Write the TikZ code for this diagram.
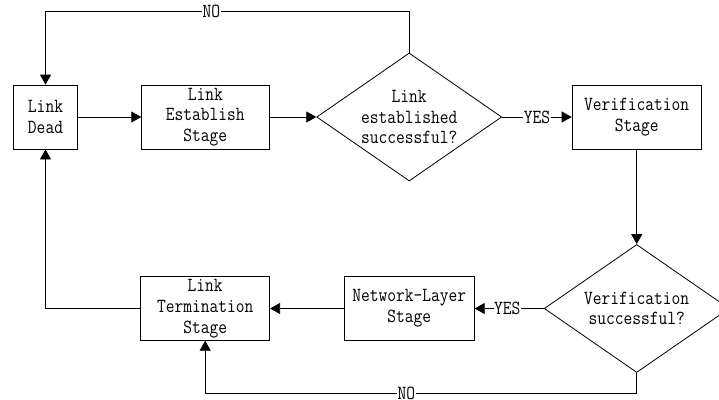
\documentclass[tikz,border=0pt]{standalone}
\usepackage{fontspec}
\setmonofont{Latin Modern Mono}[FakeStretch=0.85]
\usetikzlibrary{shapes.geometric,arrows.meta}
\begin{document}
\begin{tikzpicture}[x=1pt,y=-1pt,
  every node/.style={font=\ttfamily\fontsize{20}{20.7}\selectfont},
  box/.style={draw,line width=0.8pt,align=center,inner sep=0pt,minimum height=64},
  dia/.style={draw,line width=0.8pt,shape=diamond,align=center,inner sep=0pt,minimum width=185,minimum height=128,aspect=1.445},
  lbl/.style={fill=white,inner sep=0.5pt},
  arr/.style={line width=0.8pt,-{Triangle[length=10pt,width=11pt]}}]
\useasboundingbox (0,0) rectangle (719,399);
\node[box,minimum width=64] (dead) at (45.5,117) {Link\\Dead};
\node[box,minimum width=127.3] (est) at (205.3,117) {Link\\Establish\\Stage};
\node[dia] (d1) at (409.2,117) {Link\\established\\successful?};
\node[box,minimum width=129.3] (ver) at (636.7,117) {Verification\\Stage};
\node[dia] (d2) at (636.7,308.5) {Verification\\successful?};
\node[box,minimum width=130,minimum height=63.6] (net) at (409.3,308.5) {Network-Layer\\Stage};
\node[box,minimum width=129,minimum height=63.6] (term) at (205.2,308.5) {Link\\Termination\\Stage};
\draw[arr] (dead) -- (est);
\draw[arr] (est) -- (d1.west);
\draw[arr] (d1.east) -- node[lbl]{YES} (ver);
\draw[arr] (d1.north) -- ++(0,-41.6) -| node[lbl,pos=0.272]{NO} (dead.north);
\draw[arr] (ver) -- (d2.north);
\draw[arr] (d2.west) -- node[lbl,pos=0.53]{YES} (net);
\draw[arr] (net) -- (term);
\draw[arr] (d2.south) -- ++(0,20.4) -| node[lbl,pos=0.267]{NO} (term.south);
\draw[arr] (term.west) -| (dead.south);
\end{tikzpicture}
\end{document}
